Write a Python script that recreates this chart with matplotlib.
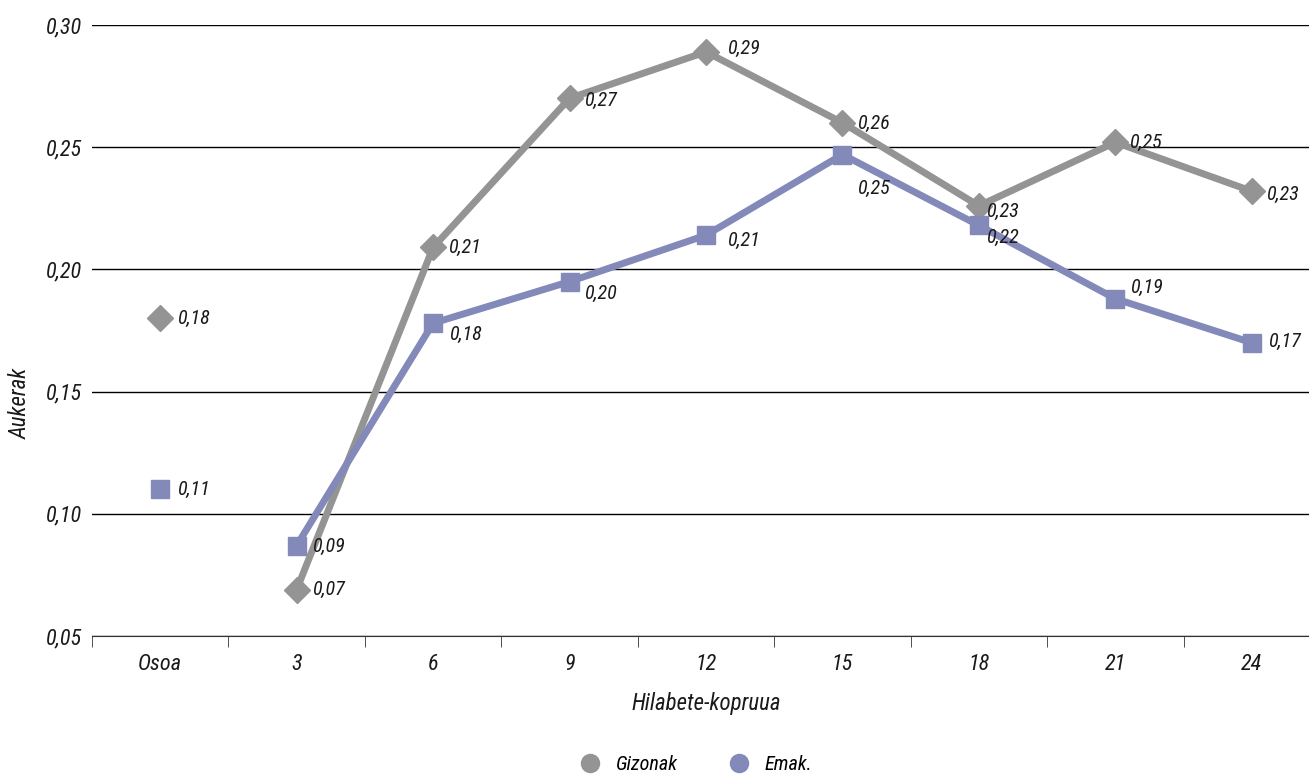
import matplotlib
matplotlib.use("Agg")
import matplotlib.pyplot as plt
from matplotlib import font_manager
from matplotlib.lines import Line2D

categories = ["Osoa", "3", "6", "9", "12", "15", "18", "21", "24"]
gizonak = [0.18, 0.069, 0.209, 0.270, 0.289, 0.260, 0.226, 0.252, 0.232]
emak = [0.110, 0.087, 0.178, 0.195, 0.214, 0.247, 0.218, 0.188, 0.170]
yticks = [0.05, 0.10, 0.15, 0.20, 0.25, 0.30]

# label offsets in pixels (dx, dy)
giz_off = [(17, 0), (15, 0), (15, 0), (14, -2), (21, 3), (15, -1), (7, -6), (14, 0), (14, -3)]
emak_off = [(17, 0), (15, -1), (16, -11), (14, -12), (21, -5), (15, -34), (7, -12), (15, 11), (16, 1)]

avail = {f.name for f in font_manager.fontManager.ttflist}
cands = ["Liberation Sans Narrow", "Roboto Condensed", "Open Sans Condensed", "Roboto"]
fams = [c for c in cands if c in avail] + ["DejaVu Sans"]
plt.rcParams['font.family'] = fams
plt.rcParams['font.style'] = 'italic'

GRAY = "#949494"
BLUE = "#8389B9"
TXT = "#1a1a1a"

fig = plt.figure(figsize=(13.09, 7.75), dpi=100)
W, H = 1309, 775
ax = fig.add_axes([92 / W, 1 - 636 / H, (1320 - 92) / W, (636 - 25) / H])

x = list(range(len(categories)))
ax.plot(x[1:], gizonak[1:], color=GRAY, lw=5, marker="D", ms=13, zorder=3)
ax.plot(x[1:], emak[1:], color=BLUE, lw=5, marker="s", ms=13, zorder=4)
ax.plot(x[0], gizonak[0], color=GRAY, marker="D", ms=13, ls="none", zorder=3)
ax.plot(x[0], emak[0], color=BLUE, marker="s", ms=13, ls="none", zorder=4)

def fmt(v):
    return f"{v:.2f}".replace(".", ",")

for xi, v, (dx, dy) in zip(x, gizonak, giz_off):
    ax.annotate(fmt(v), (xi, v), xytext=(dx, dy), textcoords="offset pixels",
                ha="left", va="center", fontsize=14.5, style="italic", color=TXT, zorder=6)
for xi, v, (dx, dy) in zip(x, emak, emak_off):
    ax.annotate(fmt(v), (xi, v), xytext=(dx, dy), textcoords="offset pixels",
                ha="left", va="center", fontsize=14.5, style="italic", color=TXT, zorder=6)

ax.set_xlim(-0.5, 8.5)
ax.set_ylim(0.05, 0.30)
ax.set_yticks(yticks)
ax.set_yticklabels([fmt(t) for t in yticks], fontsize=16, style="italic", color=TXT)
ax.yaxis.grid(True, color="black", lw=1)
ax.set_axisbelow(True)
ax.tick_params(axis="y", length=0, pad=7)

ax.set_xticks(x)
ax.set_xticklabels(categories, fontsize=16, style="italic", color=TXT)
ax.set_xticks([i - 0.5 for i in range(len(categories))], minor=True)
ax.tick_params(axis="x", which="major", length=0, pad=13)
ax.tick_params(axis="x", which="minor", length=8, direction="out", color="#333333")

for s in ["top", "right", "left"]:
    ax.spines[s].set_visible(False)
ax.spines["bottom"].set_color("#333333")

ax.set_xlabel("Hilabete-kopruua", fontsize=16.5, style="italic", color=TXT, labelpad=12)
ax.set_ylabel("Aukerak", fontsize=16.5, style="italic", color=TXT)
ax.yaxis.set_label_coords(32 / W, 1 - 403 / H, transform=fig.transFigure)

handles = [Line2D([], [], color=GRAY, marker="o", ls="none", ms=13),
           Line2D([], [], color=BLUE, marker="o", ls="none", ms=13)]
fig.legend(handles, ["Gizonak", "Emak."], loc="center", bbox_to_anchor=(0.528, 1 - 765 / H),
           ncol=2, frameon=False, prop={"size": 14.5, "style": "italic"},
           handletextpad=0.3, columnspacing=2.0)

fig.savefig("out.png", dpi=100)
